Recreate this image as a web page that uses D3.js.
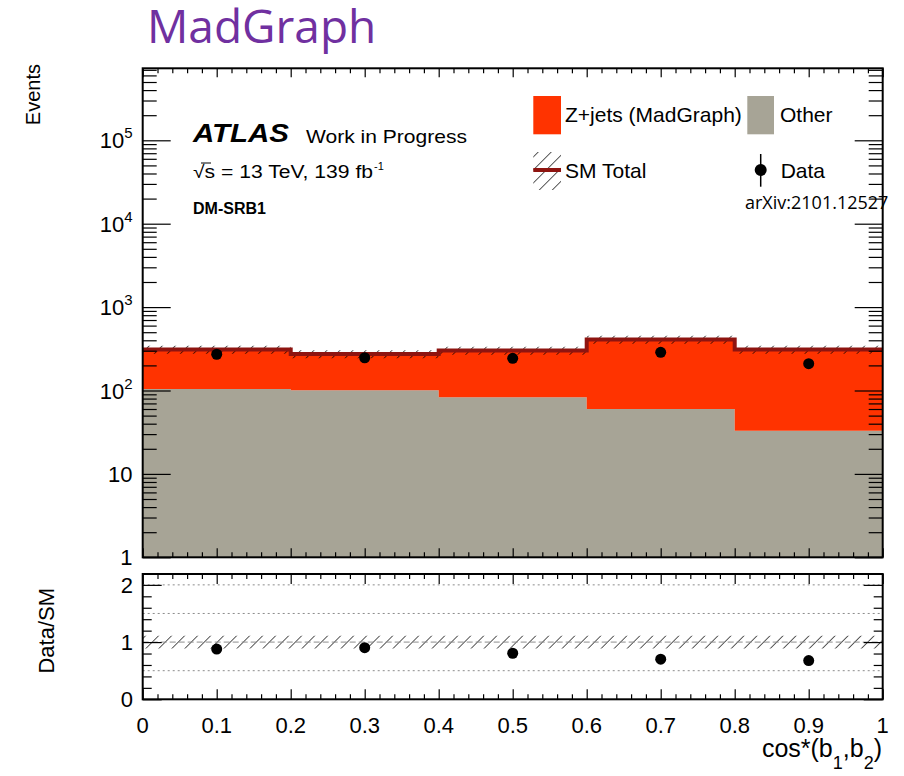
<!DOCTYPE html>
<html>
<head>
<meta charset="utf-8">
<script src="https://cdn.jsdelivr.net/npm/d3@7"></script>
<style>
  body { margin: 0; background: #fff; }
  text { font-family: "Liberation Sans", Arial, sans-serif; fill: #000; }
</style>
</head>
<body>
<div id="chart"></div>
<script>
// cos*(b1,b2) bins
const binEdges = [0, 0.2, 0.4, 0.6, 0.8, 1.0];
const binCenters = [0.1, 0.3, 0.5, 0.7, 0.9];
const zjets = [206, 173, 219, 349, 277];
const other = [104, 101, 83, 60, 33];
const dataCounts = [272, 247, 243, 287, 210];
const sysRel = [0.11, 0.11, 0.11, 0.11, 0.11];

// tick labels
const mainTicks = [1, 10, 100, 1e3, 1e4, 1e5];
const mainTickBase = ['1', '10', '10', '10', '10', '10'];
const mainTickExp = ['', '', '2', '3', '4', '5'];
const ratioTicks = [0, 1, 2];
const ratioTickLabels = ['0', '1', '2'];
const ratioDotted = [0.5, 1.5, 2];
const xTicks = [0, 0.1, 0.2, 0.3, 0.4, 0.5, 0.6, 0.7, 0.8, 0.9, 1];
const xTickLabels = ['0', '0.1', '0.2', '0.3', '0.4', '0.5', '0.6', '0.7', '0.8', '0.9', '1'];

const bins = binCenters.map((c, i) => ({
  x0: binEdges[i], x1: binEdges[i + 1], c: c,
  z: zjets[i], o: other[i], tot: zjets[i] + other[i],
  d: dataCounts[i], s: sysRel[i]
}));
// two points per bin, for step-shaped histograms
const steps = bins.flatMap(d => [Object.assign({ xv: d.x0 }, d), Object.assign({ xv: d.x1 }, d)]);

let width = 904, height = 776;
let L = 142.7, R = 882.7;
let mainTop = 68.3, mainBot = 557.3;
let ratTop = 574, ratBot = 699.3;

let svg = d3.select('#chart').append('svg')
  .attr('width', width).attr('height', height);

let defs = svg.append('defs');
defs.append('pattern')
  .attr('id', 'hatch')
  .attr('patternUnits', 'userSpaceOnUse')
  .attr('width', 9.2).attr('height', 9.2)
  .attr('patternTransform', 'rotate(45)')
  .append('line')
  .attr('x1', 0).attr('y1', 0).attr('x2', 0).attr('y2', 9.2)
  .attr('stroke', '#000').attr('stroke-width', 1.3);

// scales
let x = d3.scaleLinear().domain([0, 1]).range([L, R]);
let y = d3.scaleLog().domain([1, 7.3e5]).range([mainBot, mainTop]);
let yr = d3.scaleLinear().domain([0, 2.19]).range([ratBot, ratTop]);

// ---------- main panel ----------
let main = svg.append('g');

main.append('path')
  .attr('d', d3.area().x(p => x(p.xv)).y0(mainBot).y1(p => y(p.o))(steps))
  .attr('fill', '#a7a496');

main.append('path')
  .attr('d', d3.area().x(p => x(p.xv)).y0(p => y(p.o)).y1(p => y(p.tot))(steps))
  .attr('fill', '#ff3300');

main.append('path')
  .attr('d', d3.area().x(p => x(p.xv)).y0(p => y(p.tot * (1 - p.s))).y1(p => y(p.tot * (1 + p.s)))(steps))
  .attr('fill', 'url(#hatch)');

main.append('path')
  .attr('d', d3.line().x(p => x(p.xv)).y(p => y(p.tot))(steps))
  .attr('fill', 'none').attr('stroke', '#8e1410').attr('stroke-width', 4);

main.selectAll('circle.data').data(bins).enter().append('circle')
  .attr('cx', d => x(d.c)).attr('cy', d => y(d.d)).attr('r', 5.5)
  .attr('fill', '#000');

// ---------- ratio panel ----------
let rat = svg.append('g');

rat.selectAll('line.dot').data(ratioDotted).enter().append('line')
  .attr('x1', L).attr('x2', R)
  .attr('y1', d => yr(d)).attr('y2', d => yr(d))
  .attr('stroke', '#8c8c8c').attr('stroke-width', 1)
  .attr('stroke-dasharray', '2,3');

rat.append('path')
  .attr('d', d3.area().x(p => x(p.xv)).y0(p => yr(1 - p.s)).y1(p => yr(1 + p.s))(steps))
  .attr('fill', 'url(#hatch)');

rat.append('line')
  .attr('x1', L).attr('x2', R).attr('y1', yr(1)).attr('y2', yr(1))
  .attr('stroke', '#8c8c8c').attr('stroke-width', 1)
  .attr('stroke-dasharray', '6,3');

rat.selectAll('circle.data').data(bins).enter().append('circle')
  .attr('cx', d => x(d.c)).attr('cy', d => yr(d.d / d.tot)).attr('r', 5.5)
  .attr('fill', '#000');

// ---------- frames and ticks ----------
function tickAxis(gen, tx, ty) {
  let g = svg.append('g').attr('transform', `translate(${tx},${ty})`).call(gen);
  g.select('.domain').remove();
  g.selectAll('line').attr('stroke', '#000').attr('stroke-width', 1.2);
  g.selectAll('text').remove();
}

let logMinor = [];
for (let k = 0; k < 6; k++) for (let m = 2; m <= 9; m++) {
  let v = m * Math.pow(10, k);
  if (v < 7.3e5) logMinor.push(v);
}
let xMinor = d3.range(0, 1.0001, 0.02).filter(v => Math.abs(v * 10 - Math.round(v * 10)) > 1e-6);
let rMinor = d3.range(0, 2.19, 0.2).filter(v => Math.abs(v - Math.round(v)) > 1e-6);

// main
tickAxis(d3.axisLeft(y).tickValues(mainTicks).tickSize(-28), L, 0);
tickAxis(d3.axisLeft(y).tickValues(logMinor).tickSize(-14), L, 0);
tickAxis(d3.axisRight(y).tickValues(mainTicks).tickSize(-28), R, 0);
tickAxis(d3.axisRight(y).tickValues(logMinor).tickSize(-14), R, 0);
tickAxis(d3.axisBottom(x).tickValues(xTicks).tickSize(-9), 0, mainBot);
tickAxis(d3.axisBottom(x).tickValues(xMinor).tickSize(-5), 0, mainBot);
tickAxis(d3.axisTop(x).tickValues(xTicks).tickSize(-9), 0, mainTop);
tickAxis(d3.axisTop(x).tickValues(xMinor).tickSize(-5), 0, mainTop);
// ratio
tickAxis(d3.axisLeft(yr).tickValues(ratioTicks).tickSize(-19), L, 0);
tickAxis(d3.axisLeft(yr).tickValues(rMinor).tickSize(-9), L, 0);
tickAxis(d3.axisRight(yr).tickValues(ratioTicks).tickSize(-19), R, 0);
tickAxis(d3.axisRight(yr).tickValues(rMinor).tickSize(-9), R, 0);
tickAxis(d3.axisBottom(x).tickValues(xTicks).tickSize(-10), 0, ratBot);
tickAxis(d3.axisBottom(x).tickValues(xMinor).tickSize(-5), 0, ratBot);
tickAxis(d3.axisTop(x).tickValues(xTicks).tickSize(-10), 0, ratTop);
tickAxis(d3.axisTop(x).tickValues(xMinor).tickSize(-5), 0, ratTop);

svg.append('rect').attr('x', L).attr('y', mainTop)
  .attr('width', R - L).attr('height', mainBot - mainTop)
  .attr('fill', 'none').attr('stroke', '#000').attr('stroke-width', 2);
svg.append('rect').attr('x', L).attr('y', ratTop)
  .attr('width', R - L).attr('height', ratBot - ratTop)
  .attr('fill', 'none').attr('stroke', '#000').attr('stroke-width', 2);

// tick labels
mainTicks.forEach((v, i) => {
  let t = svg.append('text').attr('x', 132.5).attr('y', y(v) + 8)
    .attr('text-anchor', 'end').style('font-size', '22px');
  t.append('tspan').text(mainTickBase[i]);
  if (mainTickExp[i]) {
    t.append('tspan').attr('dy', -10).style('font-size', '15px').text(mainTickExp[i]);
  }
});
ratioTicks.forEach((v, i) => {
  svg.append('text').attr('x', 133).attr('y', yr(v) + 8)
    .attr('text-anchor', 'end').style('font-size', '22px').text(ratioTickLabels[i]);
});
xTicks.forEach((v, i) => {
  svg.append('text').attr('x', x(v)).attr('y', 732.7)
    .attr('text-anchor', 'middle').style('font-size', '22px').text(xTickLabels[i]);
});

// axis titles
let xt = svg.append('text').attr('x', 882).attr('y', 757)
  .attr('text-anchor', 'end').style('font-size', '25px');
xt.append('tspan').text('cos*(b');
xt.append('tspan').attr('dy', 12).style('font-size', '18px').text('1');
xt.append('tspan').attr('dy', -12).text(',b');
xt.append('tspan').attr('dy', 12).style('font-size', '18px').text('2');
xt.append('tspan').attr('dy', -12).text(')');

svg.append('text').attr('transform', 'translate(40,64) rotate(-90)')
  .attr('text-anchor', 'end').style('font-size', '20px').text('Events');
svg.append('text').attr('transform', 'translate(54,588) rotate(-90)')
  .attr('text-anchor', 'end').style('font-size', '22px').text('Data/SM');

// labels
svg.append('text').attr('x', 193).attr('y', 142)
  .style('font-size', '26px').style('font-weight', 'bold').style('font-style', 'italic')
  .attr('textLength', 96).attr('lengthAdjust', 'spacingAndGlyphs').text('ATLAS');
svg.append('text').attr('x', 306).attr('y', 143)
  .style('font-size', '19px')
  .attr('textLength', 161).attr('lengthAdjust', 'spacingAndGlyphs').text('Work in Progress');
svg.append('text').attr('x', 193).attr('y', 178).style('font-size', '18px')
  .attr('textLength', 180).attr('lengthAdjust', 'spacingAndGlyphs')
  .text('\u221As = 13 TeV, 139 fb');
svg.append('line').attr('x1', 201).attr('x2', 211).attr('y1', 163).attr('y2', 163)
  .attr('stroke', '#000').attr('stroke-width', 1);
svg.append('text').attr('x', 374).attr('y', 170).style('font-size', '11px').text('-1');
svg.append('text').attr('x', 193).attr('y', 214)
  .style('font-size', '16px').style('font-weight', 'bold').text('DM-SRB1');

// legend
let leg = svg.append('g');
leg.append('rect').attr('x', 533.3).attr('y', 96).attr('width', 27.7).attr('height', 38.3).attr('fill', '#ff3300');
leg.append('text').attr('x', 565).attr('y', 122).style('font-size', '21px').text('Z+jets (MadGraph)');
leg.append('rect').attr('x', 747.3).attr('y', 96).attr('width', 26.7).attr('height', 38.3).attr('fill', '#a7a496');
leg.append('text').attr('x', 780).attr('y', 122).style('font-size', '21px').text('Other');
leg.append('rect').attr('x', 533.3).attr('y', 152).attr('width', 27.7).attr('height', 38).attr('fill', 'url(#hatch)');
leg.append('line').attr('x1', 533.3).attr('x2', 561).attr('y1', 170).attr('y2', 170)
  .attr('stroke', '#8e1410').attr('stroke-width', 4);
leg.append('text').attr('x', 565).attr('y', 178).style('font-size', '21px').text('SM Total');
leg.append('line').attr('x1', 760.7).attr('x2', 760.7).attr('y1', 154).attr('y2', 186.7)
  .attr('stroke', '#000').attr('stroke-width', 1.5);
leg.append('circle').attr('cx', 760.7).attr('cy', 170).attr('r', 6).attr('fill', '#000');
leg.append('text').attr('x', 780.7).attr('y', 178).style('font-size', '21px').text('Data');

svg.append('text').attr('x', 745).attr('y', 209)
  .style('font-family', '"Open Sans", sans-serif').style('font-size', '18px').text('arXiv:2101.12527');

svg.append('text').attr('x', 147).attr('y', 43.3)
  .style('font-family', '"Open Sans", sans-serif').style('font-size', '46px')
  .style('fill', '#7030a0').text('MadGraph');
</script>
</body>
</html>
